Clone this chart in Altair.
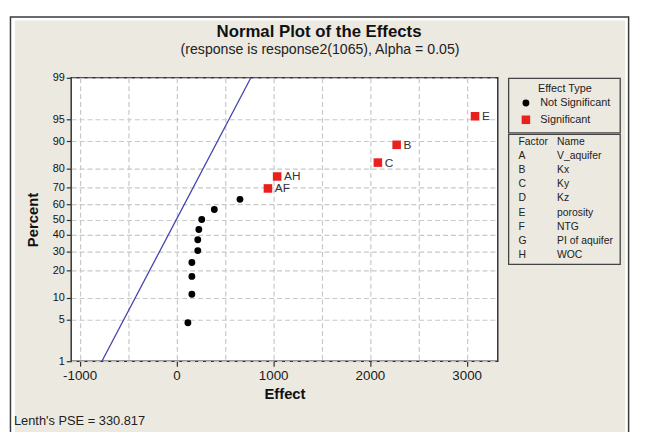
import altair as alt
import pandas as pd
from statistics import NormalDist

# ---------------- data ----------------
effects = [119, 160, 160, 160, 221, 221, 232, 262, 392, 657, 946, 1041, 2082, 2276, 3086]
percents = [4.5, 11.0, 17.5, 24.0, 30.5, 37.0, 43.5, 50.0, 56.5, 63.0, 69.5, 76.0, 82.5, 89.0, 95.5]
effect_types = ["Not Significant", "Not Significant", "Not Significant", "Not Significant",
                "Not Significant", "Not Significant", "Not Significant", "Not Significant",
                "Not Significant", "Not Significant",
                "Significant", "Significant", "Significant", "Significant", "Significant"]
point_labels = ["", "", "", "", "", "", "", "", "", "", "AF", "AH", "C", "B", "E"]

factors = ["A", "B", "C", "D", "E", "F", "G", "H"]
factor_names = ["V_aquifer", "Kx", "Ky", "Kz", "porosity", "NTG", "PI of aquifer", "WOC"]

lenth_pse = 330.817
x_ticks = [-1000, -500, 0, 500, 1000, 1500, 2000, 2500, 3000]
y_tick_pcts = [1, 5, 10, 20, 30, 40, 50, 60, 70, 80, 90, 95, 99]
line_pcts = [1, 99]

title_text = "Normal Plot of the Effects"
subtitle_text = "(response is response2(1065), Alpha = 0.05)"
type_domain = ["Not Significant", "Significant"]

# ---------------- layout / style ----------------
W, H = 432, 287
FONT = "Liberation Sans"
BEIGE = "#ECE9E1"
GRID = "#C8C8C8"

nd = NormalDist()
y_tick_z = [nd.inv_cdf(p / 100) for p in y_tick_pcts]
z_lo, z_hi = y_tick_z[0], y_tick_z[-1]

df = pd.DataFrame({"effect": effects, "pct": percents, "type": effect_types, "label": point_labels})
one = pd.DataFrame({"k": [0]})

x_scale = alt.Scale(domain=[-1087, 3321], nice=False, zero=False)
y_scale = alt.Scale(domain=[z_lo, z_hi], nice=False, zero=False)

x_axis = alt.Axis(
    values=x_ticks, tickCount=30,
    labelExpr="datum.value % 1000 === 0 ? '' + datum.value : ''",
    tickOpacity={"condition": {"test": "datum.value % 1000 !== 0", "value": 0}, "value": 1},
    tickSize=5, tickColor="#333", tickWidth=1.2, domain=False,
    grid=True, gridDash=[5, 3], gridColor=GRID, gridWidth=1.2,
    labelFont=FONT, labelFontSize=13.5, labelColor="#1a1a1a", labelPadding=3,
    labelOverlap=False, labelFlush=False,
    title="Effect", titleFont=FONT, titleFontSize=15, titleFontWeight="bold",
    titleColor="#111", titlePadding=4,
)
y_axis = alt.Axis(
    values=y_tick_z, tickCount=30,
    labelExpr="'' + round(cumulativeNormal(datum.value) * 100)",
    tickSize=5, tickColor="#333", tickWidth=1.2, domain=False,
    grid=True, gridDash=[5, 3], gridColor=GRID, gridWidth=1.2,
    labelFont=FONT, labelFontSize=11, labelColor="#111", labelPadding=2,
    labelOverlap=False, labelFlush=False,
    title="Percent", titleFont=FONT, titleFontSize=15, titleFontWeight="bold",
    titleColor="#111", titlePadding=12,
)

legend = alt.Legend(
    title="Effect Type", orient="none", legendX=455, legendY=5, direction="vertical",
    titleAnchor="middle", titleFont=FONT, titleFontSize=11, titleFontWeight="normal",
    titleColor="#222", labelFont=FONT, labelFontSize=11, labelColor="#222",
    symbolSize=50, rowPadding=5, labelOffset=9, padding=0, titlePadding=4,
)

base = alt.Chart(df).transform_calculate(z="quantileNormal(datum.pct / 100)")

points = base.mark_point(filled=True, opacity=1, strokeWidth=0).encode(
    x=alt.X("effect:Q", scale=x_scale, axis=x_axis),
    y=alt.Y("z:Q", scale=y_scale, axis=y_axis),
    color=alt.Color("type:N", scale=alt.Scale(domain=type_domain, range=["#000000", "#E8201E"]), legend=legend),
    shape=alt.Shape("type:N", scale=alt.Scale(domain=type_domain, range=["circle", "square"]), legend=legend),
    size=alt.Size("type:N", scale=alt.Scale(domain=type_domain, range=[48, 75]), legend=None),
)

labels = base.transform_filter("datum.label != ''").mark_text(
    align="left", baseline="middle", dx=7, font=FONT, fontSize=12, color="#333"
).encode(x=alt.X("effect:Q", scale=x_scale), y=alt.Y("z:Q", scale=y_scale), text="label:N")

line = alt.Chart(pd.DataFrame({"pct": line_pcts})).transform_calculate(
    z="quantileNormal(datum.pct / 100)", effect=f"{lenth_pse} * datum.z"
).mark_line(color="#4343AD", strokeWidth=1.3).encode(
    x=alt.X("effect:Q", scale=x_scale), y=alt.Y("z:Q", scale=y_scale)
)

# ---------------- decorations (frame, legend boxes, texts) ----------------
band = alt.Chart(one).mark_rect(fillOpacity=0, stroke="white", strokeWidth=20).encode(
    x=alt.value(-67), x2=alt.value(571), y=alt.value(-68), y2=alt.value(400))
frame = alt.Chart(one).mark_rect(fillOpacity=0, stroke="#3a3a3a", strokeWidth=1.5).encode(
    x=alt.value(-61.5), x2=alt.value(564.5), y=alt.value(-61.5), y2=alt.value(390))
box1 = alt.Chart(one).mark_rect(fillOpacity=0, stroke="#444", strokeWidth=1.3).encode(
    x=alt.value(443), x2=alt.value(556), y=alt.value(0.5), y2=alt.value(55.7))
box2 = alt.Chart(one).mark_rect(fillOpacity=0, stroke="#444", strokeWidth=1.3).encode(
    x=alt.value(443), x2=alt.value(556), y=alt.value(57.3), y2=alt.value(189))

col_a = alt.Chart(pd.DataFrame({"t": ["\n".join(["Factor"] + factors)]})).mark_text(
    align="left", baseline="top", lineBreak="\n", lineHeight=14.3,
    font=FONT, fontSize=10.5, color="#222").encode(x=alt.value(453), y=alt.value(60), text="t:N")
col_b = alt.Chart(pd.DataFrame({"t": ["\n".join(["Name"] + factor_names)]})).mark_text(
    align="left", baseline="top", lineBreak="\n", lineHeight=14.3,
    font=FONT, fontSize=10.5, color="#222").encode(x=alt.value(492), y=alt.value(60), text="t:N")

title = alt.Chart(pd.DataFrame({"t": [title_text]})).mark_text(
    align="center", baseline="alphabetic", font=FONT, fontSize=17, fontWeight="bold",
    color="#111").encode(x=alt.value(251), y=alt.value(-41), text="t:N")
subtitle = alt.Chart(pd.DataFrame({"t": [subtitle_text]})).mark_text(
    align="center", baseline="alphabetic", font=FONT, fontSize=14.3,
    color="#222").encode(x=alt.value(252), y=alt.value(-24), text="t:N")
lenth = alt.Chart(pd.DataFrame({"t": [f"Lenth's PSE = {lenth_pse}"]})).mark_text(
    align="left", baseline="alphabetic", font=FONT, fontSize=13,
    color="#222").encode(x=alt.value(-58), y=alt.value(352), text="t:N")

chart = alt.layer(
    band, frame, box1, box2, line, points, labels, col_a, col_b, title, subtitle, lenth
).properties(
    width=W, height=H,
    autosize=alt.AutoSizeParams(type="none"),
    padding={"left": 64, "top": 68, "right": 141, "bottom": 70},
    background=BEIGE,
).configure_view(stroke="#333", strokeWidth=1.5, fill="white")

chart.save("out.html", embed_options={"renderer": "svg", "actions": False})
